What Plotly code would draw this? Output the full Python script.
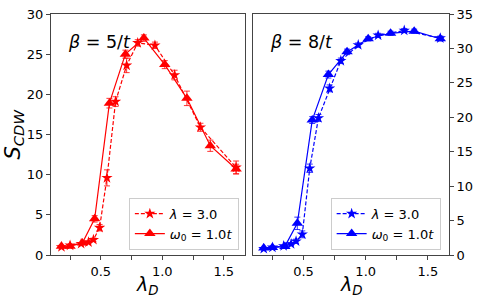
import plotly.graph_objects as go

# ---- data ----
lam_star = [0.18, 0.25, 0.34, 0.40, 0.44, 0.49, 0.55, 0.62, 0.71, 0.80, 0.94, 1.10, 1.31, 1.60]
lam_tri = [0.18, 0.25, 0.35, 0.45, 0.57, 0.70, 0.85, 1.02, 1.20, 1.39, 1.60]

s5_star = [1.0, 1.2, 1.4, 1.6, 1.9, 3.4, 9.6, 19.1, 23.6, 26.4, 26.1, 22.4, 15.9, 10.9]
s5_star_err = [0.1, 0.1, 0.1, 0.1, 0.2, 0.4, 1.0, 0.6, 0.9, 0.4, 0.4, 0.6, 0.5, 0.8]
s5_tri = [1.1, 1.1, 1.5, 4.5, 18.9, 25.0, 27.0, 23.7, 19.5, 13.6, 10.7]
s5_tri_err = [0.1, 0.1, 0.2, 0.4, 0.6, 0.5, 0.4, 0.5, 0.9, 0.7, 0.6]

s8_star = [0.9, 1.1, 1.3, 1.6, 2.0, 3.0, 12.6, 19.9, 24.2, 28.2, 30.5, 31.9, 32.6, 31.5]
s8_star_err = [0.1, 0.1, 0.1, 0.2, 0.3, 0.5, 0.6, 0.5, 0.5, 0.4, 0.3, 0.3, 0.3, 0.3]
s8_tri = [1.0, 1.1, 1.25, 4.6, 19.6, 26.2, 29.5, 31.4, 32.2, 32.5, 31.4]
s8_tri_err = [0.1, 0.1, 0.2, 0.9, 0.5, 0.5, 0.4, 0.3, 0.3, 0.3, 0.3]

star_label = "<i>λ</i> = 3.0"
tri_label = "<i>ω</i><sub>0</sub> = 1.0<i>t</i>"
panel_labels = ["<i>β</i> = 5/<i>t</i>", "<i>β</i> = 8/<i>t</i>"]
xtitle = "<i>λ</i><sub><i>D</i></sub>"
ytitle = "<i>S</i><sub><i>CDW</i></sub>"

FONT = "DejaVu Sans"
fig = go.Figure()

def add(x, y, err, color, dash, symbol, size, name, xa, ya, legend):
    fig.add_trace(go.Scatter(
        x=x, y=y, mode="lines+markers", name=name,
        line=dict(color=color, width=1.2, dash=dash),
        marker=dict(symbol=symbol, size=size, color=color),
        error_y=dict(type="data", array=err, visible=True, color=color, thickness=0.8, width=3),
        xaxis=xa, yaxis=ya, legend=legend))

add(lam_star, s5_star, s5_star_err, "red", "4px,2px", "star", 8.5, star_label, "x", "y", "legend")
add(lam_tri, s5_tri, s5_tri_err, "red", "solid", "triangle-up", 10, tri_label, "x", "y", "legend")
add(lam_star, s8_star, s8_star_err, "blue", "4px,2px", "star", 8.5, star_label, "x2", "y2", "legend2")
add(lam_tri, s8_tri, s8_tri_err, "blue", "solid", "triangle-up", 10, tri_label, "x2", "y2", "legend2")

axis_common = dict(showline=True, linecolor="#444", linewidth=1, mirror=True, automargin=False,
                   ticks="outside", ticklen=4, tickcolor="#444", showgrid=False, zeroline=False,
                   tickfont=dict(family=FONT, size=13, color="black"))

xcommon = dict(axis_common, range=[0.095, 1.67], tickvals=[0.5, 1.0, 1.5], ticktext=["0.5", "1.0", "1.5"],
               minor=dict(tickvals=[0.25, 0.75, 1.25], ticks="outside", ticklen=4, tickcolor="#444"))

legend_common = dict(bgcolor="rgba(255,255,255,0.85)", bordercolor="#ccc", borderwidth=1,
                     font=dict(family=FONT, size=13, color="black"), xanchor="right", yanchor="bottom",
                     tracegroupgap=0, itemwidth=30)

ann = dict(showarrow=False, font=dict(family=FONT, size=17.5, color="black"))

pw, ph = 478 - 51 - 29, 305 - 14 - 50

fig.update_layout(
    width=478, height=305,
    margin=dict(l=51, r=29, t=14, b=50, autoexpand=False),
    plot_bgcolor="white", paper_bgcolor="white",
    font=dict(family=FONT, color="black"),
    xaxis=dict(xcommon, domain=[0, 0.4867], anchor="y"),
    xaxis2=dict(xcommon, domain=[0.508, 1], anchor="y2"),
    yaxis=dict(axis_common, range=[0, 30], dtick=5, anchor="x"),
    yaxis2=dict(axis_common, range=[0, 35], dtick=5, anchor="x2", side="right"),
    legend=dict(legend_common, x=0.472, y=0.022),
    legend2=dict(legend_common, x=0.979, y=0.022),
    annotations=[
        dict(ann, text=panel_labels[0], x=0.038, y=0.884, xref="paper", yref="paper", xanchor="left", yanchor="middle"),
        dict(ann, text=panel_labels[1], x=0.545, y=0.884, xref="paper", yref="paper", xanchor="left", yanchor="middle"),
        dict(ann, text=xtitle, x=0.2433, y=-30 / ph, xref="paper", yref="paper", xanchor="center", yanchor="middle",
             font=dict(family=FONT, size=19, color="black")),
        dict(ann, text=xtitle, x=0.754, y=-30 / ph, xref="paper", yref="paper", xanchor="center", yanchor="middle",
             font=dict(family=FONT, size=19, color="black")),
        dict(ann, text=ytitle, x=-38 / pw, y=0.5, xref="paper", yref="paper", xanchor="center", yanchor="middle",
             textangle=-90, font=dict(family=FONT, size=21, color="black")),
    ],
)

fig.write_html("out.html", config={"displayModeBar": False},
               post_script="document.body.style.margin='0';document.body.style.padding='0';document.body.style.overflow='hidden';")
